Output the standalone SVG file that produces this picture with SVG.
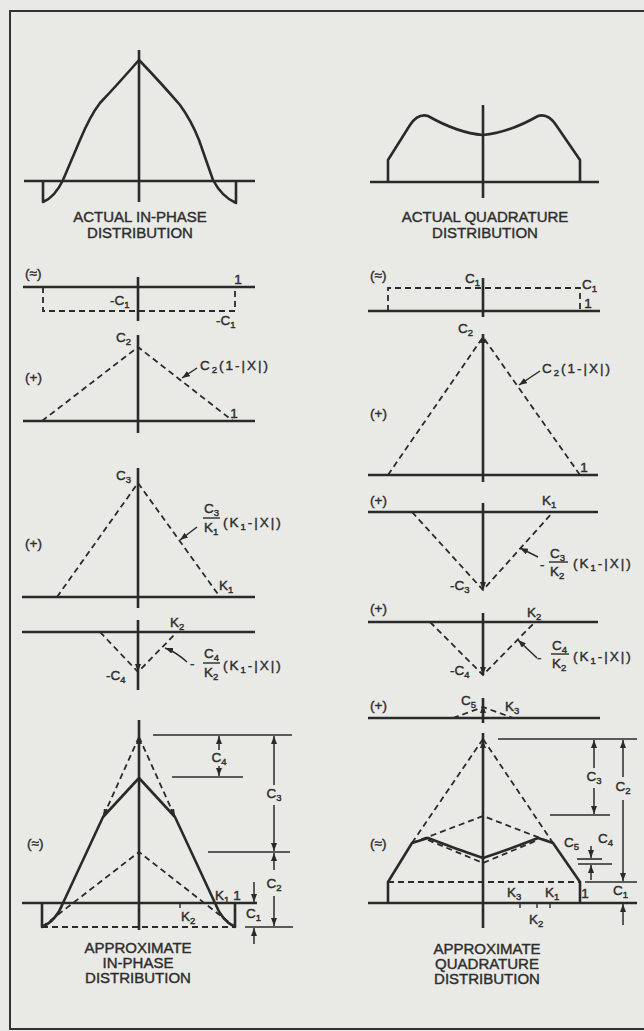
<svg xmlns="http://www.w3.org/2000/svg" width="644" height="1031" viewBox="0 0 644 1031">
<defs>
<marker id="ah" viewBox="0 0 8 6" refX="8" refY="3" markerWidth="8" markerHeight="6" markerUnits="userSpaceOnUse" orient="auto">
<path d="M0,0 L8,3 L0,6 Z" fill="#2a2a2a"/>
</marker>
<style>
.ax{stroke:#2a2a2a;stroke-width:2.6;fill:none}
.bd{stroke:#2a2a2a;stroke-width:2.6;fill:none;stroke-linejoin:round}
.ds{stroke:#2a2a2a;stroke-width:1.8;fill:none;stroke-dasharray:6 4}
.dm{stroke:#2a2a2a;stroke-width:1.6;fill:none}
.ar{stroke:#2a2a2a;stroke-width:1.5;fill:none;marker-end:url(#ah)}
.tk{stroke:#2a2a2a;stroke-width:1.4}
text{font-family:"Liberation Sans",Arial,sans-serif;fill:#2d2d2d;stroke:#2d2d2d;stroke-width:0.4}
.cap{font-size:15px;text-anchor:middle}
.l{font-size:13.5px}
.m{font-size:13.5px;text-anchor:middle}
.f{font-size:13.5px;letter-spacing:2px}
.sb{font-size:9.5px}
</style>
</defs>
<rect x="0" y="0" width="644" height="1031" fill="#e9e9e6"/>
<g id="frame">
<path d="M644,11 L10,11 L10,1029 L644,1029" stroke="#333" stroke-width="2" fill="none"/>
</g>

<g id="actual-in-phase">
<line class="ax" x1="24" y1="181" x2="255" y2="181"/>
<line class="ax" x1="139" y1="50" x2="139" y2="202"/>
<path class="bd" d="M43,181 L43,202 Q55,197 63,180 L80,140 Q90,116 100,103 Q118,84 139,60 Q162,84 180,105 Q191,120 199,140 L213,180 Q222,197 236,203 L236,181"/>
<text class="cap" x="140" y="222">ACTUAL IN-PHASE</text>
<text class="cap" x="140" y="238">DISTRIBUTION</text>
</g>

<g id="actual-quadrature">
<line class="ax" x1="370" y1="182" x2="599" y2="182"/>
<line class="ax" x1="483" y1="105" x2="483" y2="198"/>
<path class="bd" d="M388,182 L388,160 L410,125 Q418,113 428,116 Q458,133 483,135 Q508,133 538,116 Q548,113 556,125 L580,160 L580,182"/>
<text class="cap" x="485" y="222">ACTUAL QUADRATURE</text>
<text class="cap" x="485" y="238">DISTRIBUTION</text>
</g>

<g id="left-c1">
<text class="l" x="25" y="278">(≈)</text>
<line class="ax" x1="23" y1="287" x2="255" y2="287"/>
<line class="ax" x1="138" y1="277" x2="138" y2="321"/>
<path class="ds" d="M43,287 L43,311 L235,311 L235,287"/>
<text class="m" x="238" y="284">1</text>
<text class="l" x="110" y="305">-C<tspan class="sb" dy="3">1</tspan></text>
<text class="l" x="216" y="325">-C<tspan class="sb" dy="3">1</tspan></text>
</g>

<g id="left-c2">
<text class="l" x="116" y="342">C<tspan class="sb" dy="3">2</tspan></text>
<text class="l" x="25" y="382">(+)</text>
<line class="ax" x1="23" y1="421" x2="255" y2="421"/>
<line class="ax" x1="138" y1="335" x2="138" y2="433"/>
<path class="ds" d="M42,421 L138,347 L233,421"/>
<text class="m" x="234" y="418">1</text>
<text class="f" x="200" y="370">C<tspan class="sb" dy="3">2</tspan><tspan dy="-3">(1-|X|)</tspan></text>
</g>

<g id="left-c3">
<text class="l" x="116" y="480">C<tspan class="sb" dy="3">3</tspan></text>
<text class="l" x="25" y="548">(+)</text>
<line class="ax" x1="22" y1="597" x2="255" y2="597"/>
<line class="ax" x1="138" y1="468" x2="138" y2="608"/>
<path class="ds" d="M57,597 L138,483 L220,597"/>
<text class="l" x="219" y="590">K<tspan class="sb" dy="3">1</tspan></text>
<text class="l" x="204" y="513">C<tspan class="sb" dy="3">3</tspan></text>
<line class="tk" x1="203" y1="518" x2="220" y2="518"/>
<text class="l" x="204" y="532">K<tspan class="sb" dy="3">1</tspan></text>
<text class="f" x="223" y="527">(K<tspan class="sb" dy="3">1</tspan><tspan dy="-3">-|X|)</tspan></text>
</g>

<g id="left-c4">
<line class="ax" x1="22" y1="632" x2="255" y2="632"/>
<line class="ax" x1="138" y1="620" x2="138" y2="690"/>
<path class="ds" d="M100,632 L138,672 L177,632"/>
<text class="l" x="170" y="627">K<tspan class="sb" dy="3">2</tspan></text>
<text class="l" x="106" y="680">-C<tspan class="sb" dy="3">4</tspan></text>
<text class="l" x="190" y="668">-</text>
<text class="l" x="204" y="658">C<tspan class="sb" dy="3">4</tspan></text>
<line class="tk" x1="203" y1="663" x2="220" y2="663"/>
<text class="l" x="204" y="677">K<tspan class="sb" dy="3">2</tspan></text>
<text class="f" x="223" y="670">(K<tspan class="sb" dy="3">1</tspan><tspan dy="-3">-|X|)</tspan></text>
</g>

<g id="left-approx">
<text class="l" x="27" y="848">(≈)</text>
<line class="ax" x1="22" y1="903" x2="257" y2="903"/>
<line class="ax" x1="139" y1="720" x2="139" y2="930"/>
<path class="ds" d="M139,737 L103,817"/>
<path class="ds" d="M139,737 L175,817"/>
<path class="ds" d="M42,927 L139,852 L235,927"/>
<path class="ds" d="M42,927 L235,927"/>
<path class="bd" d="M42,903 L42,927 Q56,921 63,903 L103,817 L139,778 L175,817 L215,903 Q222,921 235,927 L235,903"/>
<line class="tk" x1="180" y1="903" x2="180" y2="908"/>
<text class="l" x="215" y="900">K<tspan class="sb" dy="3">1</tspan></text>
<text class="m" x="237" y="900">1</text>
<text class="l" x="181" y="921">K<tspan class="sb" dy="3">2</tspan></text>
<text class="cap" x="138" y="953">APPROXIMATE</text>
<text class="cap" x="138" y="968">IN-PHASE</text>
<text class="cap" x="138" y="983">DISTRIBUTION</text>
</g>

<g id="left-dims">
<line class="dm" x1="153" y1="735" x2="292" y2="735"/>
<line class="dm" x1="172" y1="777" x2="243" y2="777"/>
<line class="dm" x1="208" y1="852" x2="290" y2="852"/>
<line class="dm" x1="245" y1="927" x2="293" y2="927"/>
<text class="m" x="219" y="762">C<tspan class="sb" dy="3">4</tspan></text>
<text class="m" x="274" y="798">C<tspan class="sb" dy="3">3</tspan></text>
<text class="m" x="274" y="888">C<tspan class="sb" dy="3">2</tspan></text>
<text class="l" x="246" y="918">C<tspan class="sb" dy="3">1</tspan></text>
</g>

<g id="right-c1">
<text class="l" x="370" y="280">(≈)</text>
<line class="ax" x1="368" y1="311" x2="600" y2="311"/>
<line class="ax" x1="483" y1="278" x2="483" y2="317"/>
<path class="ds" d="M388,311 L388,288 L580,288 L580,311"/>
<text class="l" x="465" y="283">C<tspan class="sb" dy="3">1</tspan></text>
<text class="l" x="582" y="289">C<tspan class="sb" dy="3">1</tspan></text>
<text class="m" x="588" y="308">1</text>
</g>

<g id="right-c2">
<text class="l" x="458" y="333">C<tspan class="sb" dy="3">2</tspan></text>
<text class="l" x="370" y="418">(+)</text>
<line class="ax" x1="368" y1="475" x2="598" y2="475"/>
<line class="ax" x1="483" y1="482" x2="483" y2="334"/>
<path class="ds" d="M388,475 L483,337 L580,475"/>
<text class="m" x="584" y="472">1</text>
<text class="f" x="542" y="373">C<tspan class="sb" dy="3">2</tspan><tspan dy="-3">(1-|X|)</tspan></text>
</g>

<g id="right-c3">
<text class="l" x="370" y="505">(+)</text>
<line class="ax" x1="368" y1="512" x2="598" y2="512"/>
<line class="ax" x1="483" y1="503" x2="483" y2="588"/>
<path class="ds" d="M412,512 L483,590 L553,512"/>
<text class="l" x="542" y="505">K<tspan class="sb" dy="3">1</tspan></text>
<text class="l" x="450" y="590">-C<tspan class="sb" dy="3">3</tspan></text>
<text class="l" x="540" y="569">-</text>
<text class="l" x="550" y="558">C<tspan class="sb" dy="3">3</tspan></text>
<line class="tk" x1="549" y1="562" x2="568" y2="562"/>
<text class="l" x="550" y="576">K<tspan class="sb" dy="3">2</tspan></text>
<text class="f" x="573" y="568">(K<tspan class="sb" dy="3">1</tspan><tspan dy="-3">-|X|)</tspan></text>
</g>

<g id="right-c4">
<text class="l" x="370" y="613">(+)</text>
<line class="ax" x1="368" y1="622" x2="598" y2="622"/>
<line class="ax" x1="483" y1="613" x2="483" y2="675"/>
<path class="ds" d="M430,622 L483,675 L535,622"/>
<text class="l" x="527" y="617">K<tspan class="sb" dy="3">2</tspan></text>
<text class="l" x="450" y="675">-C<tspan class="sb" dy="3">4</tspan></text>
<text class="l" x="537" y="662">-</text>
<text class="l" x="552" y="650">C<tspan class="sb" dy="3">4</tspan></text>
<line class="tk" x1="551" y1="654" x2="569" y2="654"/>
<text class="l" x="552" y="668">K<tspan class="sb" dy="3">2</tspan></text>
<text class="f" x="573" y="661">(K<tspan class="sb" dy="3">1</tspan><tspan dy="-3">-|X|)</tspan></text>
</g>

<g id="right-c5">
<text class="l" x="370" y="710">(+)</text>
<line class="ax" x1="368" y1="718" x2="600" y2="718"/>
<line class="ax" x1="483" y1="723" x2="483" y2="698"/>
<path class="ds" d="M453,718 L483,707 L513,718"/>
<text class="l" x="461" y="705">C<tspan class="sb" dy="3">5</tspan></text>
<text class="l" x="505" y="711">K<tspan class="sb" dy="3">3</tspan></text>
</g>

<g id="right-approx">
<text class="l" x="370" y="848">(≈)</text>
<line class="ax" x1="368" y1="903" x2="637" y2="903"/>
<line class="ax" x1="483" y1="928" x2="483" y2="733"/>
<path class="ds" d="M483,739 L412,843"/>
<path class="ds" d="M483,739 L553,843"/>
<path class="ds" d="M412,843 L483,816 L553,843"/>
<path class="ds" d="M428,840 L483,863 L538,840"/>
<path class="ds" d="M388,882 L580,882"/>
<path class="bd" d="M388,903 L388,882 L412,843 L428,838 Q456,849 483,858 Q510,849 538,838 L553,843 L580,882 L580,903"/>
<line class="tk" x1="520" y1="903" x2="520" y2="908"/>
<line class="tk" x1="537" y1="903" x2="537" y2="908"/>
<line class="tk" x1="550" y1="903" x2="550" y2="908"/>
<text class="l" x="507" y="897">K<tspan class="sb" dy="3">3</tspan></text>
<text class="l" x="545" y="897">K<tspan class="sb" dy="3">1</tspan></text>
<text class="m" x="585" y="898">1</text>
<text class="l" x="529" y="924">K<tspan class="sb" dy="3">2</tspan></text>
<text class="cap" x="487" y="954">APPROXIMATE</text>
<text class="cap" x="487" y="969">QUADRATURE</text>
<text class="cap" x="487" y="984">DISTRIBUTION</text>
</g>

<g id="right-dims">
<line class="dm" x1="498" y1="739" x2="637" y2="739"/>
<line class="dm" x1="550" y1="815" x2="610" y2="815"/>
<line class="dm" x1="577" y1="859" x2="602" y2="859"/>
<line class="dm" x1="578" y1="864" x2="612" y2="864"/>
<line class="dm" x1="585" y1="882" x2="637" y2="882"/>
<text class="m" x="594" y="781">C<tspan class="sb" dy="3">3</tspan></text>
<text class="m" x="623" y="791">C<tspan class="sb" dy="3">2</tspan></text>
<text class="l" x="564" y="847">C<tspan class="sb" dy="3">5</tspan></text>
<text class="l" x="598" y="843">C<tspan class="sb" dy="3">4</tspan></text>
<text class="l" x="613" y="895">C<tspan class="sb" dy="3">1</tspan></text>
</g>

<g id="connectors">
<path class="ar" d="M197,368 L182,378"/>
<path class="ar" d="M540,371 L519,385"/>
<path class="ar" d="M197,527 L180,540"/>
<path class="ar" d="M187,662 Q176,652 165,648"/>
<path class="ar" d="M538,557 L520,548"/>
<path class="ar" d="M537,658 L518,640"/>
<path class="ar" d="M138,662 L138,672"/>
<path class="ar" d="M483,346 L483,335"/>
<path class="ar" d="M483,580 L483,590"/>
<path class="ar" d="M483,665 L483,675"/>
<path class="ar" d="M483,714 L483,705"/>
<path class="ar" d="M139,748 L139,736"/>
<path class="ar" d="M483,752 L483,740"/>
<path class="ar" d="M107,809 L103,817"/>
<path class="ar" d="M171,809 L175,817"/>
<path class="ar" d="M219,750 L219,736"/>
<path class="ar" d="M219,766 L219,776"/>
<path class="ar" d="M274,785 L274,736"/>
<path class="ar" d="M274,805 L274,851"/>
<path class="ar" d="M274,870 L274,853"/>
<path class="ar" d="M274,896 L274,926"/>
<path class="ar" d="M254,882 L254,902"/>
<path class="ar" d="M254,944 L254,928"/>
<path class="ar" d="M594,768 L594,740"/>
<path class="ar" d="M594,788 L594,814"/>
<path class="ar" d="M623,777 L623,740"/>
<path class="ar" d="M623,800 L623,881"/>
<path class="ar" d="M623,925 L623,904"/>
<path class="ar" d="M591,846 L591,858"/>
<path class="ar" d="M591,880 L591,865"/>
</g>
</svg>
